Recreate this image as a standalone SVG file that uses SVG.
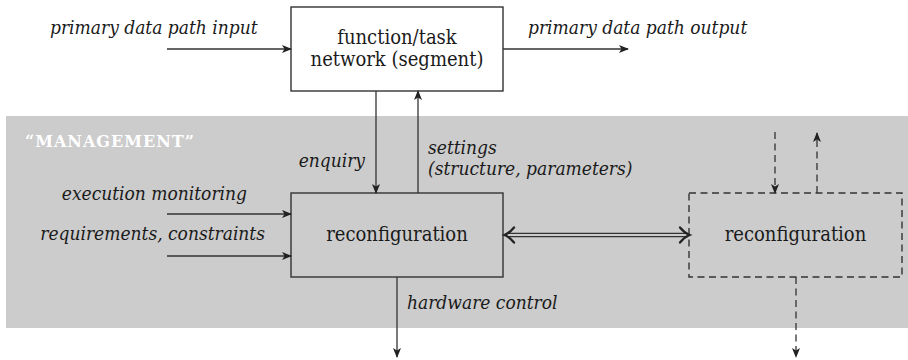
<svg xmlns="http://www.w3.org/2000/svg" width="908" height="360" viewBox="0 0 908 360">
  <style>
    .box { stroke: #333; stroke-width: 1.4; }
    .dash { stroke-dasharray: 7 4.5; }
    .line { fill: none; stroke: #333; stroke-width: 1.3; }
    .lbl { font-family: "DejaVu Serif Condensed", "DejaVu Serif", serif; font-stretch: condensed; font-style: italic; font-size: 19px; fill: #1a1a1a; }
    .name { font-family: "DejaVu Serif Condensed", "DejaVu Serif", serif; font-stretch: condensed; font-size: 20px; fill: #1a1a1a; text-anchor: middle; }
    .mgmt { font-family: "DejaVu Serif", serif; font-weight: bold; font-size: 16px; fill: #ffffff; letter-spacing: 1px; }
  </style>
  <defs>
    <marker id="arr" viewBox="0 0 10 8" refX="9" refY="4" markerWidth="10" markerHeight="8" markerUnits="userSpaceOnUse" orient="auto">
      <path d="M0,0 L10,4 L0,8 L2.5,4 z" fill="#222"/>
    </marker>
  </defs>

  <rect width="908" height="360" fill="#ffffff"/>

  <!-- management band -->
  <rect id="management-band" x="6" y="116" width="902" height="212" fill="#cccccc"/>
  <text class="mgmt" x="25" y="147">“MANAGEMENT”</text>

  <!-- nodes -->
  <g id="function-network">
    <rect class="box" x="291" y="7" width="212" height="84" fill="#ffffff"/>
    <text class="name" x="397" y="44">function/task</text>
    <text class="name" x="397" y="66">network (segment)</text>
  </g>
  <g id="reconfiguration">
    <rect class="box" x="291" y="193" width="212" height="84" fill="#cccccc"/>
    <text class="name" x="397" y="241">reconfiguration</text>
  </g>
  <g id="reconfiguration-peer">
    <rect class="box dash" x="689" y="193" width="213" height="84" fill="none"/>
    <text class="name" x="795.5" y="241">reconfiguration</text>
  </g>

  <!-- connectors -->
  <g id="connectors">
    <line class="line" x1="167" y1="49" x2="291" y2="49" marker-end="url(#arr)"/>
    <line class="line" x1="503" y1="49" x2="628" y2="49" marker-end="url(#arr)"/>
    <line class="line" x1="376" y1="91" x2="376" y2="193" marker-end="url(#arr)"/>
    <line class="line" x1="418" y1="193" x2="418" y2="91" marker-end="url(#arr)"/>
    <line class="line" x1="167" y1="214" x2="291" y2="214" marker-end="url(#arr)"/>
    <line class="line" x1="167" y1="256" x2="291" y2="256" marker-end="url(#arr)"/>
    <line class="line" x1="397" y1="277" x2="397" y2="357" marker-end="url(#arr)"/>
    <!-- double-line link between reconfiguration units -->
    <line class="line" x1="507" y1="233.3" x2="687" y2="233.3"/>
    <line class="line" x1="507" y1="236.7" x2="687" y2="236.7"/>
    <path d="M514,227.5 Q509.5,233 504.5,235 Q509.5,237 514,242.5" fill="none" stroke="#222" stroke-width="2.3" stroke-linecap="round"/>
    <path d="M680,227.5 Q684.5,233 689.5,235 Q684.5,237 680,242.5" fill="none" stroke="#222" stroke-width="2.3" stroke-linecap="round"/>
    <!-- dashed links of the peer unit -->
    <line class="line dash" x1="775" y1="132" x2="775" y2="193" marker-end="url(#arr)"/>
    <line class="line dash" x1="817" y1="193" x2="817" y2="133" marker-end="url(#arr)"/>
    <line class="line dash" x1="796" y1="277" x2="796" y2="357" marker-end="url(#arr)"/>
  </g>

  <!-- connector labels -->
  <g id="labels">
    <text class="lbl" x="50" y="34">primary data path input</text>
    <text class="lbl" x="528" y="34">primary data path output</text>
    <text class="lbl" x="365" y="167" text-anchor="end">enquiry</text>
    <text class="lbl" x="428" y="154">settings</text>
    <text class="lbl" x="428" y="175">(structure, parameters)</text>
    <text class="lbl" x="247" y="200" text-anchor="end">execution monitoring</text>
    <text class="lbl" x="265" y="240" text-anchor="end">requirements, constraints</text>
    <text class="lbl" x="407" y="309">hardware control</text>
  </g>
</svg>
